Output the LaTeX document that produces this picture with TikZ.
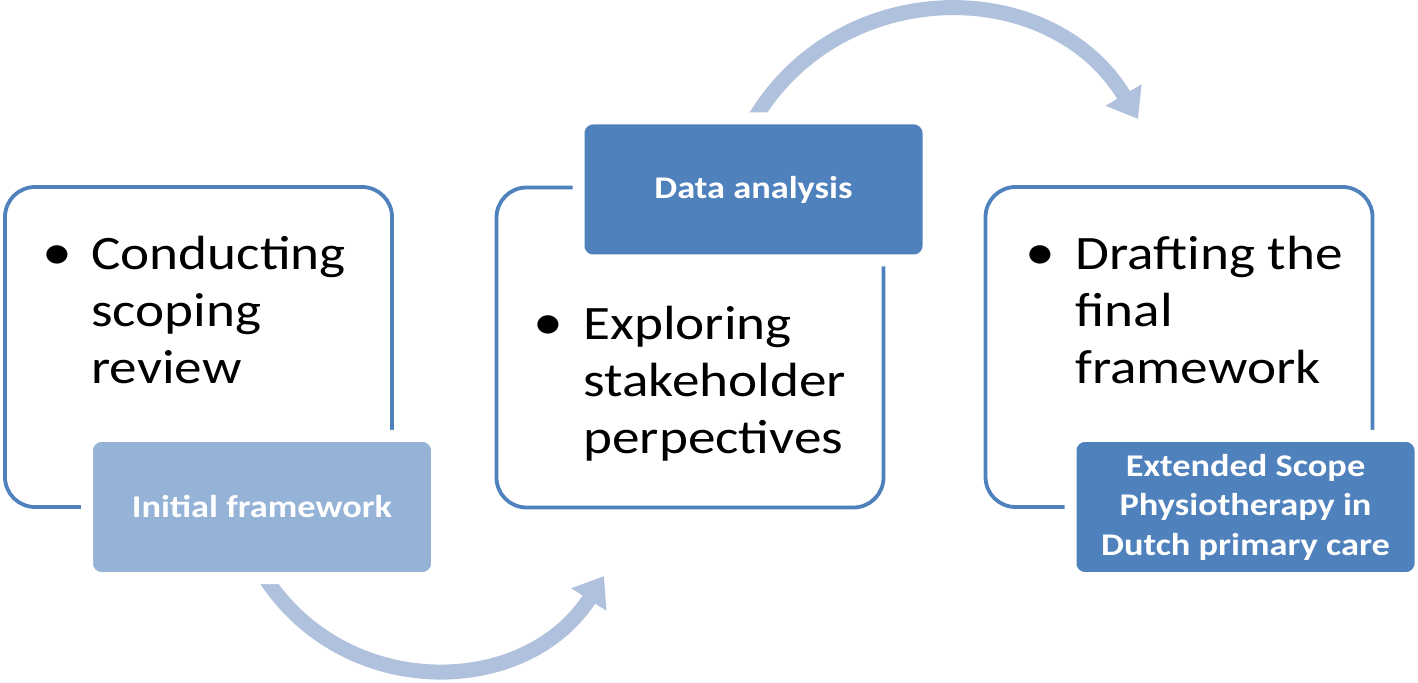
\documentclass[tikz,border=0pt]{standalone}
\usepackage{fontspec}
\setmainfont{Carlito}[FakeStretch=1.15]
\usetikzlibrary{arrows.meta}

\definecolor{rahmenblau}{RGB}{79,129,189}
\definecolor{hellblau}{RGB}{149,179,215}
\definecolor{bogenblau}{RGB}{176,193,221}

\tikzset{
    kasten/.style={rectangle, draw=rahmenblau, line width=1.9pt, rounded corners=15pt, fill=white, minimum width=193.5pt, minimum height=160pt},
    etikett/.style={rectangle, draw=white, line width=6pt, rounded corners=7pt, minimum width=175pt, minimum height=71pt, text=white, align=center, font=\fontsize{15.8}{19.7}\selectfont\bfseries},
    inhalt/.style={anchor=base west, inner sep=0pt, font=\fontsize{24}{28.35}\selectfont},
    punkt/.style={anchor=base, inner sep=0pt, font=\fontsize{26}{28.35}\selectfont},
    bogen/.style={draw=bogenblau, line width=7.5pt, -{Triangle[length=14pt, width=20pt]}}
}

\begin{document}
\begin{tikzpicture}[x=0.5pt, y=-0.5pt]
    \useasboundingbox (0,0) rectangle (1418,683);
    \path node[kasten] (K1) at (198.5,347) {}
        node[kasten] (K2) at (690,347.5) {}
        node[kasten] (K3) at (1179,347) {};
    % Boegen zwischen den Schritten
    \coordinate (A1) at (266,579);
    \coordinate (A2) at (604,576);
    \coordinate (B1) at (755,118);
    \coordinate (B2) at (1138,119);
    \draw[bogen] (A1) .. controls (346.6,701.3) and (525.5,698.3) .. (A2);
    \draw[bogen] (B1) .. controls (841.9,-25.9) and (1051.6,-24.9) .. (B2);
    \path node[etikett, fill=hellblau] (E1) at (262,507) {Initial framework}
        node[etikett, fill=rahmenblau] (E2) at (753.5,189.5) {Data analysis}
        node[etikett, fill=rahmenblau] (E3) at (1245.5,507) {Extended Scope\\Physiotherapy in\\Dutch primary care};
    \path node[punkt] (P1) at (57,270) {\textbullet}
        node[inhalt] (T1) at (91,270) {\begin{tabular}[t]{@{}l@{}}Conducting\\scoping\\review\end{tabular}}
        node[punkt] (P2) at (548,340) {\textbullet}
        node[inhalt] (T2) at (583,340) {\begin{tabular}[t]{@{}l@{}}Exploring\\stakeholder\\perpectives\end{tabular}}
        node[punkt] (P3) at (1040,270) {\textbullet}
        node[inhalt] (T3) at (1075,270) {\begin{tabular}[t]{@{}l@{}}Drafting the\\final\\framework\end{tabular}};
\end{tikzpicture}
\end{document}
